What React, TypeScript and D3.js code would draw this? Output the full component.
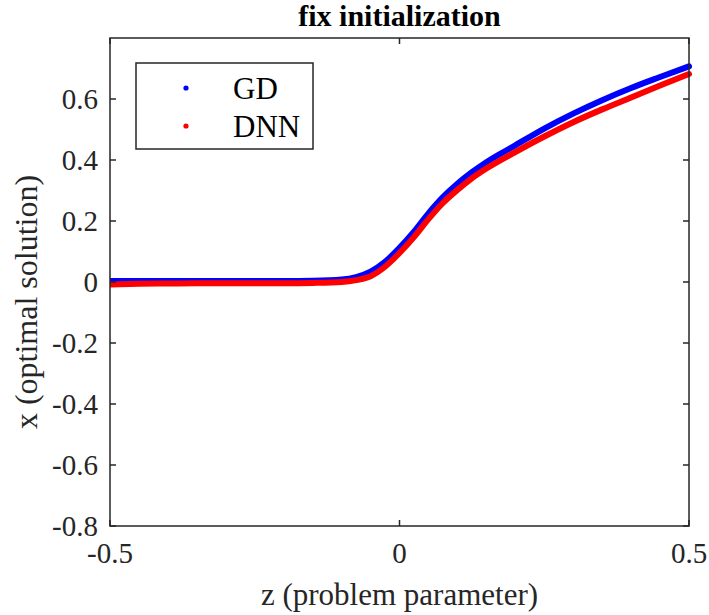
import React from "react";
import * as d3 from "d3";

// Sampled problem parameter values
const zValues = [
  -0.5, -0.45, -0.4, -0.35, -0.3, -0.25, -0.2, -0.15, -0.1, -0.075, -0.05, -0.025,
  0, 0.025, 0.05, 0.075, 0.1, 0.125, 0.15, 0.2, 0.25, 0.3, 0.35, 0.4, 0.45, 0.5,
];
// Optimal solution found by gradient descent
const gdValues = [
  0.003, 0.003, 0.003, 0.003, 0.003, 0.003, 0.003, 0.004, 0.008, 0.016, 0.034, 0.066,
  0.112, 0.165, 0.225, 0.278, 0.322, 0.36, 0.393, 0.448, 0.503, 0.552, 0.596, 0.636, 0.672, 0.707,
];
// Optimal solution predicted by the network
const dnnValues = [
  -0.008, -0.006, -0.005, -0.004, -0.004, -0.004, -0.004, -0.003, 0.0, 0.006, 0.019, 0.05,
  0.095, 0.147, 0.206, 0.259, 0.302, 0.34, 0.372, 0.426, 0.477, 0.524, 0.566, 0.605, 0.644, 0.682,
];
const xTicks = [-0.5, 0, 0.5];
const yTicks = [-0.8, -0.6, -0.4, -0.2, 0, 0.2, 0.4, 0.6];
const seriesNames = ["GD", "DNN"];
const seriesColors = ["#0000ff", "#ff0000"];

const W = 709;
const H = 615;
const left = 110;
const right = 689;
const top = 38;
const bottom = 526;
const axisColor = "#262626";
const font = "'Liberation Serif', 'Times New Roman', serif";

export default function App() {
  const x = d3.scaleLinear().domain([-0.5, 0.5]).range([left, right]);
  const y = d3.scaleLinear().domain([-0.8, 0.8]).range([bottom, top]);
  const line = d3
    .line<number>()
    .x((_, i) => x(zValues[i]))
    .y((v) => y(v))
    .curve(d3.curveMonotoneX);
  const series = [gdValues, dnnValues];
  const tickLen = 6;
  const txt = { fontFamily: font };

  return (
    <svg
      width={W}
      height={H}
      style={{ position: "absolute", left: 0, top: 0, background: "#fff" }}
    >
      <defs>
        <clipPath id="plotClip">
          <rect x={left} y={top - 4} width={right - left + 4} height={bottom - top + 8} />
        </clipPath>
      </defs>
      {/* data */}
      <g clipPath="url(#plotClip)">
        {series.map((vals, k) => (
          <path
            key={k}
            d={line(vals) || ""}
            fill="none"
            stroke={seriesColors[k]}
            strokeWidth={6}
            strokeLinecap="round"
            strokeLinejoin="round"
          />
        ))}
      </g>
      {/* axes box */}
      <rect
        x={left}
        y={top}
        width={right - left}
        height={bottom - top}
        fill="none"
        stroke={axisColor}
        strokeWidth={1.5}
      />
      {xTicks.map((t) => (
        <g key={"x" + t}>
          <line x1={x(t)} x2={x(t)} y1={bottom} y2={bottom - tickLen} stroke={axisColor} strokeWidth={1.5} />
          <line x1={x(t)} x2={x(t)} y1={top} y2={top + tickLen} stroke={axisColor} strokeWidth={1.5} />
          <text x={x(t)} y={563} textAnchor="middle" fontSize={29} fill={axisColor} style={txt}>
            {t === 0 ? "0" : String(t)}
          </text>
        </g>
      ))}
      {yTicks.map((t) => (
        <g key={"y" + t}>
          <line x1={left} x2={left + tickLen} y1={y(t)} y2={y(t)} stroke={axisColor} strokeWidth={1.5} />
          <line x1={right} x2={right - tickLen} y1={y(t)} y2={y(t)} stroke={axisColor} strokeWidth={1.5} />
          <text x={98} y={y(t)} dy="0.35em" textAnchor="end" fontSize={29} fill={axisColor} style={txt}>
            {t === 0 ? "0" : String(t)}
          </text>
        </g>
      ))}
      {/* labels */}
      <text x={(left + right) / 2} y={26} textAnchor="middle" fontSize={30} fontWeight="bold" fill="#000" style={txt}>
        fix initialization
      </text>
      <text x={(left + right) / 2} y={605} textAnchor="middle" fontSize={31} fill={axisColor} style={txt}>
        z (problem parameter)
      </text>
      <text
        transform={`translate(37,302) rotate(-90)`}
        textAnchor="middle"
        fontSize={32}
        fill={axisColor}
        style={txt}
      >
        x (optimal solution)
      </text>
      {/* legend */}
      <rect x={136} y={63} width={177} height={86} fill="#fff" stroke={axisColor} strokeWidth={1.5} />
      {seriesNames.map((name, k) => (
        <g key={name}>
          <circle cx={186} cy={88 + k * 38} r={2.6} fill={seriesColors[k]} />
          <text x={233} y={88 + k * 38} dy="0.35em" fontSize={31} fill="#000" style={txt}>
            {name}
          </text>
        </g>
      ))}
    </svg>
  );
}
